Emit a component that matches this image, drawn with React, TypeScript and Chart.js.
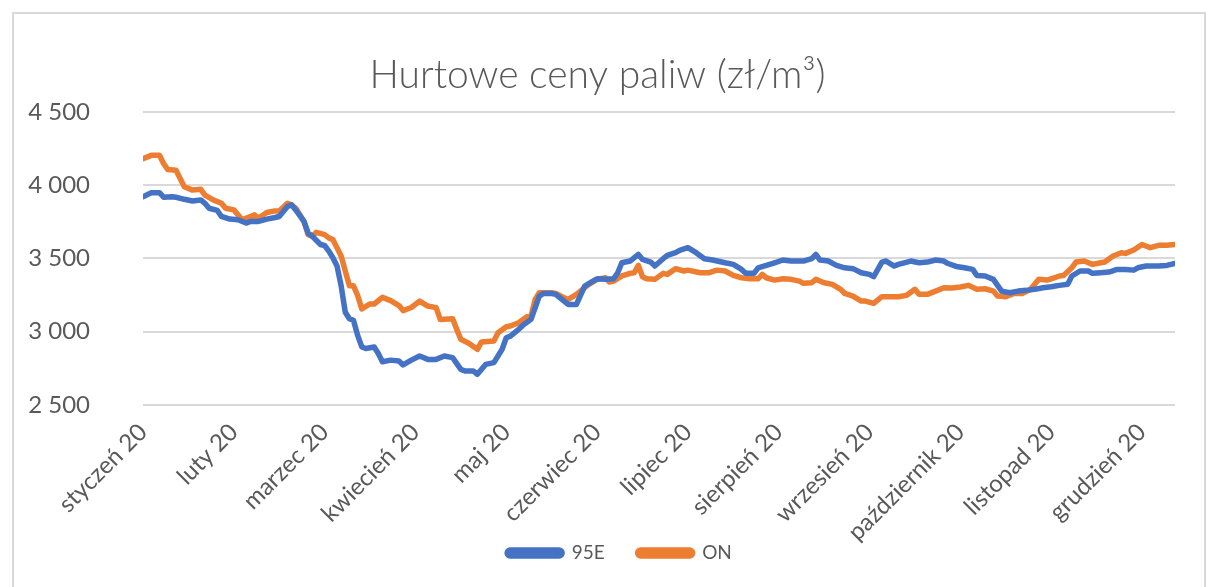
import React, { useEffect, useRef } from 'react';
import { Chart, registerables } from 'chart.js';

Chart.register(...registerables);

const monthLabels = [
  'styczeń 20', 'luty 20', 'marzec 20', 'kwiecień 20', 'maj 20', 'czerwiec 20',
  'lipiec 20', 'sierpień 20', 'wrzesień 20', 'październik 20', 'listopad 20', 'grudzień 20',
];
const monthTickIndex = [0, 22, 44, 66, 88, 110, 132, 154, 176, 198, 220, 242];
const yTickValues = [2500, 3000, 3500, 4000, 4500];

const day95E = [
  0, 2, 4, 5, 7, 8, 10, 12, 14, 15, 16, 18, 19, 21, 23, 25, 26, 28, 30, 32, 33, 35, 36, 37, 39,
  40, 41, 43, 44, 45, 46, 47, 48, 49, 50, 51, 52, 53, 54, 56, 57, 58, 60, 62, 63, 65, 67, 69, 71,
  73, 75, 77, 78, 80, 81, 83, 85, 87, 88, 89, 91, 92, 94, 96, 97, 99, 100, 102, 103, 105, 107,
  109, 110, 112, 114, 115, 116, 118, 120, 121, 123, 124, 126, 127, 129, 130, 132, 134, 136, 138,
  141, 143, 145, 146, 148, 149, 151, 153, 155, 157, 160, 162, 163, 164, 166, 168, 170, 172, 174,
  176, 177, 179, 180, 182, 183, 186, 188, 190, 192, 194, 195, 197, 199, 201, 202, 204, 206, 208,
  210, 212, 214, 216, 218, 220, 222, 224, 225, 227, 229, 230, 232, 234, 236, 238, 240, 241, 243,
  246, 248, 250,
];
const price95E = [
  3921, 3948, 3948, 3917, 3921, 3917, 3903, 3892, 3899, 3876, 3842, 3827, 3786, 3768, 3764, 3741,
  3752, 3752, 3768, 3779, 3786, 3854, 3865, 3831, 3752,
  3673, 3651, 3595, 3588, 3550, 3505, 3448, 3313, 3133, 3088, 3077, 2975, 2896, 2885, 2896, 2851,
  2795, 2806, 2800, 2773, 2806, 2834, 2811, 2811,
  2834, 2823, 2743, 2732, 2732, 2709, 2777, 2789, 2880, 2959, 2970, 3016, 3043, 3084, 3243, 3261,
  3261, 3255, 3209, 3186, 3186, 3311,
  3345, 3361, 3357, 3361, 3402, 3470, 3482, 3527, 3493, 3475, 3448, 3498, 3520, 3539, 3555, 3573,
  3539, 3498, 3489,
  3470, 3459, 3425, 3398, 3398, 3436, 3452, 3470, 3489, 3482, 3482, 3498, 3527, 3489, 3482, 3452,
  3436, 3430, 3402,
  3391, 3375, 3475, 3482, 3448, 3459, 3482, 3470, 3475, 3489, 3482, 3465, 3445, 3436, 3425, 3384,
  3380, 3357, 3277,
  3266, 3277, 3282, 3289, 3300, 3307, 3316, 3323, 3380, 3414, 3414, 3398, 3402, 3407, 3425, 3425,
  3420, 3436, 3448,
  3448, 3452, 3465,
];

const dayON = [
  0, 2, 4, 5, 6, 8, 9, 10, 12, 14, 15, 17, 19, 20, 22, 23, 24, 26, 27, 28, 30, 32, 33, 35, 36, 37,
  39, 40, 41, 42, 44, 45, 46, 48, 49, 50, 51, 52, 53, 55, 56, 58, 60, 62, 63, 65, 67, 69, 71, 72,
  75, 76, 77, 79, 81, 82, 85, 86, 88, 89, 91, 93, 94, 95, 96, 99, 100, 102, 103, 105, 107, 108,
  110, 112, 113, 114, 116, 118, 119, 120, 121, 122, 124, 126, 127, 129, 131, 132, 135, 137, 139,
  141, 143, 145, 147, 149, 150, 151, 153, 155, 157, 159, 160, 162, 163, 165, 167, 169, 170, 172,
  174, 175, 177, 179, 181, 183, 185, 187, 188, 190, 192, 194, 196, 198, 200, 202, 204, 206, 207,
  209, 211, 213, 215, 217, 219, 220, 222, 223, 225, 226, 228, 230, 232, 233, 235, 237, 238, 240,
  242, 244, 246, 248, 250,
];
const priceON = [
  4180, 4203, 4203, 4146, 4106, 4101, 4045, 3989, 3966, 3971, 3932, 3899, 3876, 3842, 3831, 3797,
  3764, 3786, 3797, 3775, 3813, 3824, 3824, 3876, 3865, 3842,
  3752, 3662, 3651, 3678, 3662, 3640, 3628, 3516, 3414, 3313, 3313, 3246, 3156, 3189, 3189, 3234,
  3212, 3178, 3144, 3165, 3209, 3175, 3164, 3084,
  3089, 3016, 2948, 2920, 2880, 2930, 2936, 2993, 3034, 3039, 3061, 3102, 3107, 3220, 3266, 3266,
  3261, 3232, 3220, 3255, 3300, 3323,
  3357, 3368, 3339, 3345, 3380, 3398, 3402, 3452, 3375, 3361, 3357, 3398, 3391, 3430, 3414, 3420,
  3402, 3402, 3420,
  3414, 3384, 3368, 3361, 3361, 3391, 3368, 3352, 3361, 3357, 3345, 3330, 3334, 3357, 3334, 3323,
  3289, 3261, 3243,
  3209, 3209, 3193, 3239, 3239, 3239, 3248, 3289, 3255, 3255, 3277, 3300, 3298, 3305, 3316, 3289,
  3293, 3277, 3243,
  3239, 3261, 3261, 3289, 3357, 3352, 3361, 3380, 3384, 3436, 3475, 3482, 3459, 3470, 3475, 3516,
  3539, 3534, 3557,
  3595, 3573, 3589, 3589, 3595,
];

const TEXT = '#595959';
const FONT = 'Lato, "Open Sans", sans-serif';

function fmt(v: number): string {
  const s = String(Math.round(v));
  return s.replace(/\B(?=(\d{3})+(?!\d))/g, ' ');
}

const layoutTweaks = {
  id: 'layoutTweaks',
  afterLayout(chart: any) {
    const l = chart.legend;
    if (l) {
      l.left += 22;
      l.right += 22;
    }
    const xs = chart.scales.x;
    if (xs) {
      // let the rotated month labels extend below the axis box without being clipped
      xs.bottom = xs.top + 150;
      xs.height = 150;
    }
  },
};

export default function App() {
  const ref = useRef<HTMLCanvasElement | null>(null);

  useEffect(() => {
    if (!ref.current) return;
    const chart = new Chart(ref.current, {
      type: 'line',
      plugins: [layoutTweaks],
      data: {
        datasets: [
          {
            label: '95E',
            data: day95E.map((d, i) => ({ x: d, y: price95E[i] })),
            borderColor: '#4472C4',
            backgroundColor: '#4472C4',
            borderWidth: 5.5,
            pointRadius: 0,
            tension: 0,
            borderCapStyle: 'round',
            borderJoinStyle: 'round',
          },
          {
            label: 'ON',
            data: dayON.map((d, i) => ({ x: d, y: priceON[i] })),
            borderColor: '#ED7D31',
            backgroundColor: '#ED7D31',
            borderWidth: 5.5,
            pointRadius: 0,
            tension: 0,
            borderCapStyle: 'round',
            borderJoinStyle: 'round',
          },
        ],
      },
      options: {
        animation: false,
        responsive: false,
        maintainAspectRatio: false,
        layout: { padding: { left: 20, right: 36, top: 0, bottom: 14.5 } },
        plugins: {
          title: {
            display: true,
            text: 'Hurtowe ceny paliw (zł/m³)',
            color: TEXT,
            font: { family: FONT, size: 39, weight: '300' },
            padding: { top: 52, bottom: 13 },
          },
          legend: {
            position: 'bottom',
            labels: {
              color: TEXT,
              font: { family: FONT, size: 19 },
              boxWidth: 55,
              boxHeight: 6,
              useBorderRadius: true,
              borderRadius: 3,
              padding: 33,
            },
          },
          tooltip: { enabled: false },
        },
        scales: {
          x: {
            type: 'linear',
            min: 0,
            max: 250,
            afterBuildTicks: (scale: any) => {
              scale.ticks = monthTickIndex.map((v) => ({ value: v }));
            },
            afterFit: (scale: any) => {
              scale.height = 105.5;
            },
            grid: { display: false },
            border: { display: false },
            ticks: {
              autoSkip: false,
              minRotation: 45,
              maxRotation: 45,
              color: TEXT,
              font: { family: FONT, size: 24 },
              padding: 5,
              callback: (value: any) => {
                const i = monthTickIndex.indexOf(Number(value));
                return i >= 0 ? monthLabels[i] : '';
              },
            },
          },
          y: {
            min: 2500,
            max: 4500,
            afterBuildTicks: (scale: any) => {
              scale.ticks = yTickValues.map((v) => ({ value: v }));
            },
            afterFit: (scale: any) => {
              scale.width = 123;
            },
            grid: { color: '#d9d9d9', lineWidth: 2, drawTicks: false },
            border: { display: false },
            ticks: {
              color: TEXT,
              font: { family: FONT, size: 24 },
              padding: 53,
              callback: (value: any) => fmt(Number(value)),
            },
          },
        },
      },
    });
    return () => chart.destroy();
  }, []);

  return (
    <div style={{ position: 'fixed', left: 0, top: 0, width: 1211, height: 587, background: '#fff' }}>
      <div
        style={{
          position: 'absolute',
          left: 12,
          top: 12,
          width: 1194,
          height: 590,
          border: '2px solid #d9d9d9',
          boxSizing: 'border-box',
        }}
      />
      <canvas ref={ref} width={1211} height={587} style={{ position: 'absolute', left: 0, top: 0 }} />
    </div>
  );
}
